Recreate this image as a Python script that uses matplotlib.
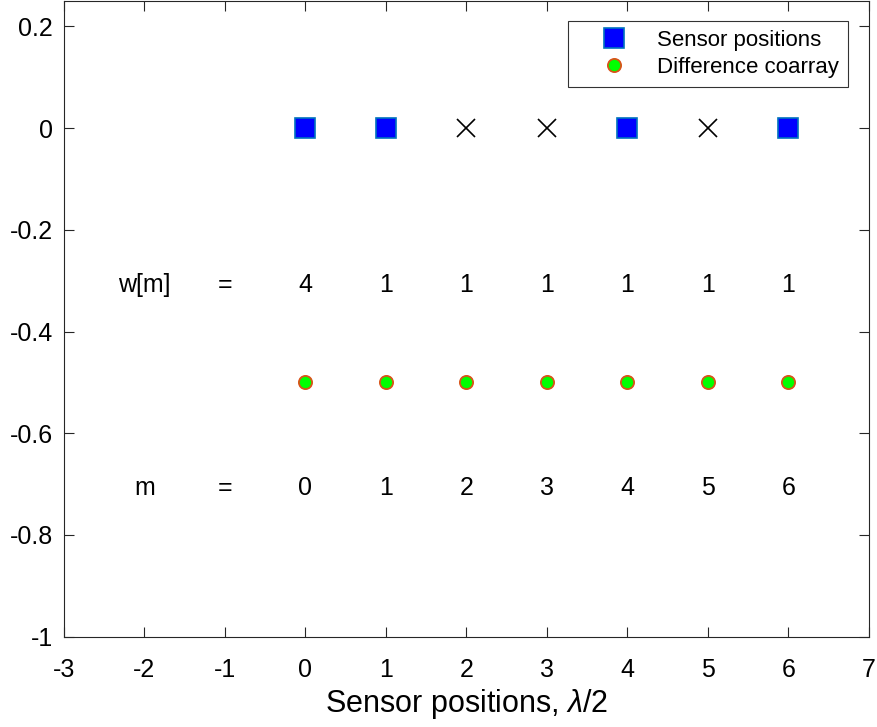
import numpy as np
import matplotlib.pyplot as plt
import matplotlib.transforms as mtransforms

plt.rcParams['font.family'] = ['Liberation Sans', 'DejaVu Sans']
plt.rcParams['mathtext.fontset'] = 'custom'
plt.rcParams['mathtext.it'] = 'Liberation Sans:italic'
plt.rcParams['mathtext.rm'] = 'Liberation Sans'

# minimum redundancy array and its difference coarray
sensor_pos = [0, 1, 4, 6]
hole_pos = [2, 3, 5]
lags = [0, 1, 2, 3, 4, 5, 6]
weights = [4, 1, 1, 1, 1, 1, 1]

xticks = np.arange(-3, 8, 1)
yticks = [-1, -0.8, -0.6, -0.4, -0.2, 0, 0.2]

fig = plt.figure(figsize=(8.78, 7.27), dpi=100)
ax = fig.add_axes([0.0729, 0.1242, 0.9165, 0.8744])

ax.plot(sensor_pos, np.zeros(len(sensor_pos)), 's', ms=14, mfc=(0, 0, 1),
        mec=(0.0, 0.447, 0.741), mew=1.2, ls='none', label='Sensor positions')
ax.plot(hole_pos, np.zeros(len(hole_pos)), 'x', ms=12.5, color='k', mew=1.2, ls='none')
ax.plot(lags, -0.5*np.ones(len(lags)), 'o', ms=9.5, mfc=(0, 1, 0),
        mec=(0.85, 0.325, 0.098), mew=1.3, ls='none', label='Difference coarray')

# text rows sit a few pixels below their y value
fs = 18
tr = ax.transData + mtransforms.ScaledTranslation(0, -3/72, fig.dpi_scale_trans)
ax.text(-2, -0.3, 'w[m]', ha='center', va='center', fontsize=fs, transform=tr)
ax.text(-1, -0.3, '=', ha='center', va='center', fontsize=fs, transform=tr)
for m, w in zip(lags, weights):
    ax.text(m, -0.3, str(w), ha='center', va='center', fontsize=fs, transform=tr)
ax.text(-2, -0.7, 'm', ha='center', va='center', fontsize=fs, transform=tr)
ax.text(-1, -0.7, '=', ha='center', va='center', fontsize=fs, transform=tr)
for m in lags:
    ax.text(m, -0.7, str(m), ha='center', va='center', fontsize=fs, transform=tr)

ax.set_xlim(-3, 7)
ax.set_ylim(-1, 0.25)
ax.set_xticks(xticks)
ax.set_yticks(yticks)
ax.set_yticklabels(['-1', '-0.8', '-0.6', '-0.4', '-0.2', '0', '0.2'])
ax.set_xticklabels([str(v) for v in xticks])
ax.tick_params(direction='in', top=True, right=True, labelsize=fs, length=7,
               width=0.8, color=(0.15, 0.15, 0.15))
ax.tick_params(axis='y', pad=8)
ax.tick_params(axis='x', pad=15)
for s in ax.spines.values():
    s.set_color((0.15, 0.15, 0.15))
    s.set_linewidth(0.8)
ax.set_xlabel(r'Sensor positions, $\lambda$/2', fontsize=22, labelpad=4)

leg = ax.legend(loc='upper right', bbox_to_anchor=(0.974, 0.968), borderaxespad=0,
                fontsize=16, frameon=True, fancybox=False, edgecolor='k',
                handlelength=3.33, handletextpad=0.27, borderpad=0.4,
                labelspacing=0.26)
leg.get_frame().set_linewidth(0.8)

plt.savefig('out.png', dpi=100)
